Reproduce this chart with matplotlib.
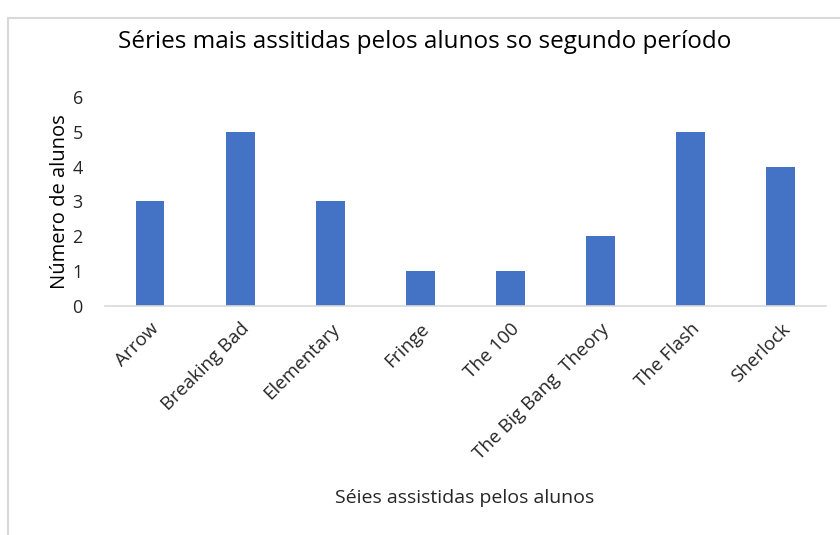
import matplotlib.pyplot as plt
from matplotlib.patches import Rectangle
from matplotlib.transforms import ScaledTranslation

series = ["Arrow", "Breaking Bad", "Elementary", "Fringe", "The 100",
          "The Big Bang  Theory", "The Flash", "Sherlock"]
alunos = [3, 5, 3, 1, 1, 2, 5, 4]

BAR = "#4472C4"
GRID = "#D9D9D9"

plt.rcParams["font.family"] = ["Open Sans", "DejaVu Sans"]

fig = plt.figure(figsize=(8.4, 5.35), dpi=100)
ax = fig.add_axes([0.125, 0.428, 0.858, 0.391])

x = range(len(series))
ax.bar(x, alunos, width=0.32, color=BAR, zorder=2)

ax.set_xlim(-0.5, len(series) - 0.5)
ax.set_ylim(0, 6)
ax.set_yticks(range(0, 7))
ax.set_xticks(list(x))
ax.set_xticklabels(series, rotation=45, ha="right", rotation_mode="anchor",
                   fontsize=13.5, color="#262626")
for lab in ax.get_xticklabels():
    lab.set_transform(lab.get_transform() + ScaledTranslation(0.1, 0, fig.dpi_scale_trans))
ax.tick_params(axis="y", labelsize=13, colors="#262626", length=0, pad=16)
ax.tick_params(axis="x", length=0, pad=10)

for s in ["top", "right", "left"]:
    ax.spines[s].set_visible(False)
ax.spines["bottom"].set_color(GRID)
ax.spines["bottom"].set_linewidth(1.2)

ax.set_ylabel("Número de alunos", fontsize=14.5, color="black", labelpad=2)
fig.text(0.553, 0.07, "Séies assistidas pelos alunos", fontsize=14,
         ha="center", va="center", color="#262626")
fig.text(0.506, 0.922, "Séries mais assitidas pelos alunos so segundo período",
         fontsize=17.5, ha="center", va="center", color="black")

# chart area border (left and top edges visible)
fig.patches.append(Rectangle((8 / 840, -0.05), 1.2, 1 - 18 / 535 + 0.05,
                             transform=fig.transFigure, fill=False,
                             edgecolor=GRID, linewidth=1.5))

fig.savefig("out.png", dpi=100)
